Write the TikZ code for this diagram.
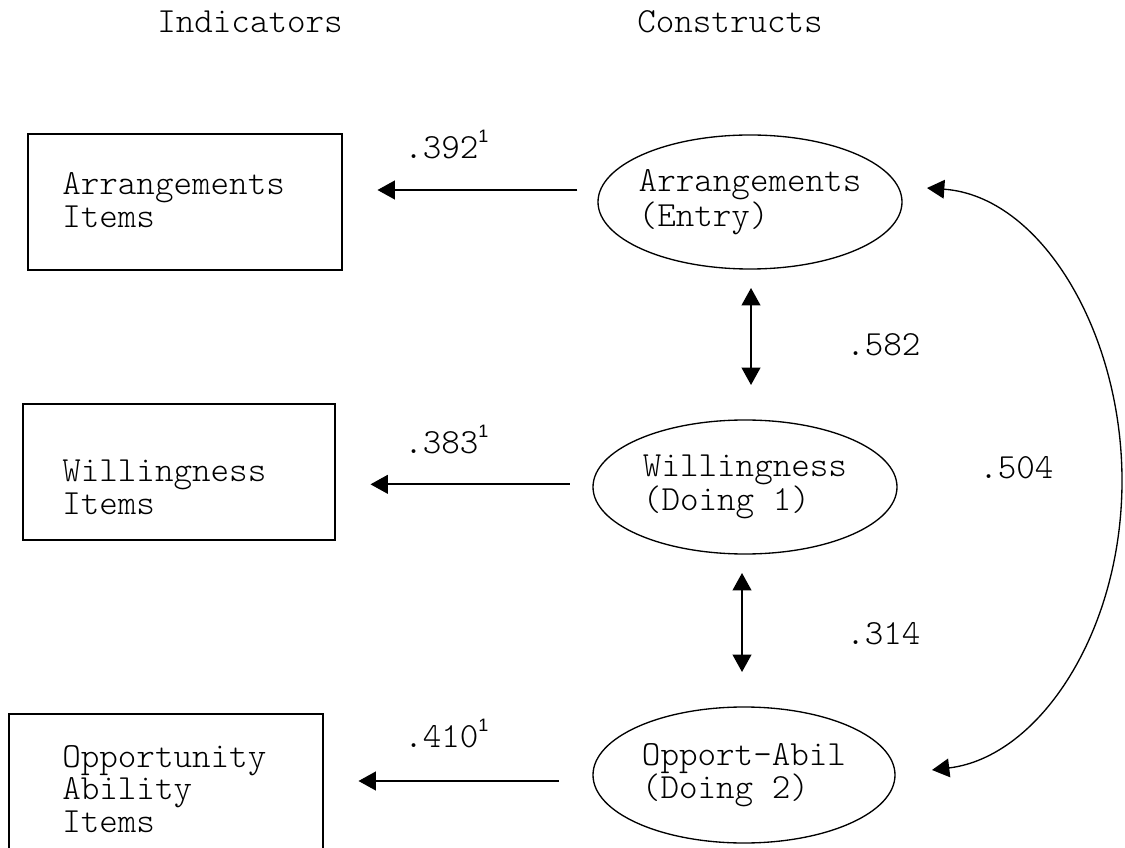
\documentclass[tikz,border=0pt]{standalone}
\usepackage{fontspec}
\setmainfont{Liberation Serif}
\setmonofont{Latin Modern Mono Light}
\setsansfont{Liberation Sans}
\usetikzlibrary{arrows.meta,shapes.geometric}

% small raised note mark after a loading
\newcommand\notemark{\raisebox{12pt}{\sffamily\fontsize{13.5}{13.5}\selectfont 1}}

\begin{document}
\begin{tikzpicture}[x=0.75pt,y=-0.75pt,
  every node/.style={font=\ttfamily\fontsize{26.5}{24.6}\selectfont, inner sep=0pt},
  itembox/.style={draw, line width=1.2pt, minimum width=235.5pt, minimum height=102pt},
  itemtext/.style={anchor=west, align=left},
  construct/.style={draw, ellipse, line width=1pt, align=left, inner xsep=-6pt,
    minimum width=228pt, minimum height=100.5pt},
  loading/.style={-{Triangle[length=13pt,width=14pt]}, line width=1.4pt},
  corr/.style={{Triangle[length=13pt,width=14pt]}-{Triangle[length=13pt,width=14pt]}, line width=1.4pt},
  coef/.style={anchor=west}
]
\useasboundingbox (0,0) rectangle (1125,848);
\clip (0,0) rectangle (1125,848);

% column headings
\node[anchor=west] (hind) at (157,22) {Indicators};
\node[anchor=west] (hcon) at (637,22) {Constructs};

% indicator boxes
\node[itembox] (b1) at (185,202) {};
\node[itemtext] (b1t) at (62,200) {Arrangements\\Items};
\node[itembox, minimum width=234pt] (b2) at (179,472) {};
\node[itemtext] (b2t) at (62,487) {Willingness\\Items};
\node[itembox, minimum height=112.5pt] (b3) at (166,789) {};
\node[itemtext] (b3t) at (62,789) {Opportunity\\Ability\\Items};

% constructs
\node[construct] (e1) at (750,202) {Arrangements\\(Entry)};
\node[construct] (e2) at (745,487) {Willingness\\(Doing 1)};
\node[construct, minimum width=226.5pt, minimum height=102pt] (e3) at (744,775) {Opport-Abil\\(Doing 2)};

% loadings
\draw[loading, shorten <=15pt, shorten >=26pt] ([yshift=9pt]e1.west) -- ([yshift=9pt]e1.west -| b1.east);
\draw[loading, shorten <=17pt, shorten >=26pt] ([yshift=2pt]e2.west) -- ([yshift=2pt]e2.west -| b2.east);
\draw[loading, shorten <=25pt, shorten >=26pt] ([yshift=-4.5pt]e3.west) -- ([yshift=-4.5pt]e3.west -| b3.east);

\node[coef] (l1) at (404,145) {.392\notemark};
\node[coef] (l2) at (404,440) {.383\notemark};
\node[coef] (l3) at (404,734) {.410\notemark};

% correlations between constructs
\coordinate (c12a) at (751,288);
\coordinate (c12b) at (751,385);
\coordinate (c23a) at (742,573);
\coordinate (c23b) at (742,672);
\draw[corr] (c12a) -- (c12b);
\draw[corr] (c23a) -- (c23b);
\node[coef] (r12) at (846,345) {.582};
\node[coef] (r23) at (846,634) {.314};

\coordinate (r1) at (927,188);
\coordinate (rm) at (1122,478);
\coordinate (r3) at (932,770);
\draw[corr, line width=1pt] (r1) .. controls (1040,196) and (1121,330) .. (rm)
  .. controls (1123,630) and (1040,757) .. (r3);
\node[coef] (r13) at (979,468) {.504};
\end{tikzpicture}
\end{document}
